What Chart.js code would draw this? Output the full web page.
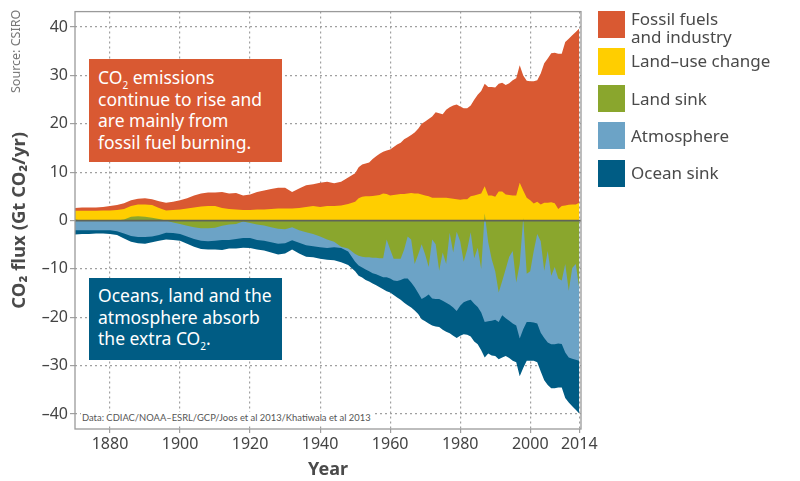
<!DOCTYPE html>
<html>
<head>
<meta charset="utf-8">
<title>CO2 flux</title>
<script src="https://cdn.jsdelivr.net/npm/chart.js@4"></script>
<style>
	body { margin: 0; background: #fff; font-family: "Noto Sans", sans-serif; }
	#wrap { position: relative; width: 800px; height: 481px; overflow: hidden; }
	canvas { position: absolute; left: 0; top: 0; }
	.box { position: absolute; left: 89px; width: 193px; color: #fff; font-size: 17.5px; line-height: 21.5px; box-sizing: border-box; padding-left: 9px; }
	.box sub { font-size: 10px; line-height: 0; }
	#boxOrange { top: 59px; height: 103px; background: #d95932; padding-top: 8px; }
	#boxBlue { top: 278px; height: 82px; background: #005c84; padding-top: 7px; }
	#dataNote { position: absolute; left: 81px; top: 412px; background: #fff; color: #555; font-family: Lato, sans-serif; font-size: 9.4px; line-height: 12px; padding: 0 3px 0 1px; white-space: nowrap; }
	#source { position: absolute; left: 9px; top: 93px; color: #777; font-size: 12.5px; line-height: 14px; transform-origin: 0 0; transform: rotate(-90deg); white-space: nowrap; }
	.swatch { position: absolute; left: 598px; width: 27px; height: 27px; }
	.label { position: absolute; left: 631px; color: #4a4a4a; font-size: 17px; line-height: 18px; white-space: pre-line; }
</style>
</head>
<body>
<div id="wrap">
	<canvas id="chartFlux" width="800" height="481"></canvas>
	<div id="source">Source: CSIRO</div>
	<div class="box" id="boxOrange">CO<sub>2</sub> emissions<br>continue to rise and<br>are mainly from<br>fossil fuel burning.</div>
	<div class="box" id="boxBlue">Oceans, land and the<br>atmosphere absorb<br>the extra CO<sub>2</sub>.</div>
	<div id="dataNote">Data: CDIAC/NOAA–ESRL/GCP/Joos et al 2013/Khatiwala et al 2013</div>
</div>
<script>
const years = [
	1870, 1872, 1874, 1876, 1878, 1880, 1882, 1884, 1886, 1888, 1890, 1892, 1894, 1896, 1898, 1900, 1902, 1904, 1906, 1908,
	1910, 1912, 1914, 1916, 1918, 1920, 1922, 1924, 1926, 1928, 1930, 1932, 1934, 1936, 1938, 1940, 1942, 1944, 1946, 1948, 1950,
	1951, 1952, 1953, 1954, 1955, 1956, 1957, 1958, 1959, 1960, 1961, 1962, 1963, 1964, 1965, 1966, 1967, 1968, 1969, 1970,
	1971, 1972, 1973, 1974, 1975, 1976, 1977, 1978, 1979, 1980, 1981, 1982, 1983, 1984, 1985, 1986, 1987, 1988, 1989, 1990,
	1991, 1992, 1993, 1994, 1995, 1996, 1997, 1998, 1999, 2000, 2001, 2002, 2003, 2004, 2005, 2006, 2007, 2008, 2009, 2010,
	2011, 2012, 2013, 2014,
];

const fossilFuels = [
	0.6, 0.7, 0.7, 0.7, 0.7, 0.9, 1.0, 1.2, 1.2, 1.2, 1.3, 1.2, 1.4, 1.6, 1.7, 1.9, 2.1, 2.5, 2.7, 2.8,
	2.8, 3.3, 3.2, 3.4, 3.0, 3.2, 3.6, 3.9, 4.1, 4.3, 4.3, 3.4, 4.0, 4.5, 4.5, 5.0, 5.0, 4.7, 4.9, 5.5, 5.9,
	6.4, 6.7, 6.8, 7.0, 7.6, 8.1, 8.5, 8.6, 9.0, 9.5, 9.9, 10.3, 10.6, 11.3, 11.6, 12.0, 12.6, 13.4, 14.6, 15.3,
	16.0, 16.8, 17.7, 17.5, 17.3, 18.2, 18.8, 19.3, 19.6, 19.3, 18.8, 18.8, 18.8, 19.8, 20.6, 21.2, 21.2, 22.4, 22.4, 22.6,
	22.3, 22.5, 22.6, 23.1, 23.8, 24.2, 24.3, 23.8, 24.2, 24.6, 25.3, 25.1, 27.1, 28.8, 29.8, 30.8, 31.1, 32.1, 31.5, 33.8,
	34.35, 35.0, 35.7, 36.0,
];

const landUse = [
	2.0, 2.0, 2.0, 2.0, 2.1, 2.1, 2.2, 2.4, 3.0, 3.3, 3.3, 3.2, 2.6, 2.1, 2.2, 2.3, 2.5, 2.7, 2.9, 3.0,
	3.0, 2.6, 2.4, 2.3, 2.2, 2.2, 2.3, 2.3, 2.4, 2.5, 2.5, 2.5, 2.6, 2.8, 3.0, 2.8, 3.0, 3.0, 3.1, 3.4, 3.9,
	4.6, 4.9, 5.0, 5.0, 5.1, 5.2, 5.3, 5.6, 5.5, 5.2, 5.3, 5.4, 5.5, 5.5, 5.6, 5.7, 5.6, 5.6, 5.4, 5.2,
	5.0, 4.7, 4.7, 4.7, 4.7, 4.7, 4.6, 4.5, 4.4, 4.3, 4.4, 4.4, 5.0, 5.2, 5.4, 5.6, 7.1, 5.2, 5.2, 4.9,
	6.0, 6.0, 5.4, 5.3, 5.2, 5.2, 7.8, 6.2, 4.7, 4.2, 3.5, 3.9, 3.3, 3.7, 3.7, 3.8, 3.6, 2.4, 3.0, 3.1,
	3.25, 3.3, 3.3, 3.7,
];

const landSink = [
	0.2, 0, 0, 0, 0, 0, 0, 0.2, 0.8, 0.9, 0.8, 0.6, 0.3, 0, -0.4, -0.7, -1.1, -1.4, -1.6, -1.6,
	-1.5, -1.1, -0.8, -0.7, -0.2, -0.5, -0.8, -1.0, -1.4, -1.7, -1.8, -1.4, -2.0, -2.4, -2.8, -3.3, -3.9, -4.4, -5.4, -5.8, -6.9,
	-7.3, -7.5, -7.6, -7.6, -7.7, -7.7, -7.8, -7.8, -3.9, -6.0, -7.9, -7.9, -7.9, -6.0, -3.3, -3.9, -9.0, -7.0, -4.9, -7.0,
	-9.6, -3.9, -4.9, -10.4, -6.6, -9.0, -2.5, -6.6, -2.3, -4.3, -8.5, -6.0, -2.4, -7.8, -5.6, -10.0, 1.5, -4.5, -8.0, -10.5,
	-14.9, -12.5, -10.0, -7.5, -6.3, -12.8, -9.0, 0.5, -11.0, -10.5, -6.3, -2.8, -4.3, -10.4, -6.3, -11.4, -9.6, -12.0, -12.4, -9.0,
	-14.5, -9.8, -9.0, -14.0,
];

const atmosphere = [
	-2.0, -2.0, -2.0, -2.0, -2.0, -2.0, -2.2, -2.7, -3.2, -3.4, -3.4, -3.3, -3.0, -2.5, -2.2, -2.1, -2.2, -2.4, -2.6, -2.7,
	-2.7, -2.9, -3.2, -3.1, -3.4, -3.1, -3.2, -3.2, -3.1, -3.1, -2.9, -2.7, -2.6, -2.7, -2.5, -2.2, -1.8, -1.1, -0.3, -0.6, -1.6,
	-2.0, -2.2, -2.5, -2.9, -3.2, -3.4, -3.6, -3.9, -7.8, -6.0, -4.5, -4.6, -4.4, -6.0, -8.7, -8.9, -4.8, -8.0, -11.3, -8.8,
	-5.7, -12.2, -11.3, -5.8, -10.0, -8.0, -14.9, -11.4, -16.4, -13.3, -8.4, -10.6, -14.0, -9.4, -12.3, -9.0, -21.0, -16.3, -12.7, -10.0,
	-6.1, -7.1, -10.2, -13.2, -15.0, -8.9, -15.4, -22.5, -10.0, -10.5, -14.8, -18.5, -18.9, -13.9, -18.9, -14.2, -16.0, -13.4, -13.1, -18.3,
	-13.8, -18.8, -19.8, -15.0,
];

const oceanSink = [
	-0.9, -0.8, -0.8, -0.7, -0.7, -0.8, -0.8, -1.0, -1.2, -1.3, -1.4, -1.2, -1.2, -1.4, -1.4, -1.4, -1.5, -1.6, -1.7, -1.7,
	-1.8, -2.1, -1.8, -2.0, -2.0, -2.1, -2.0, -2.0, -2.1, -2.2, -2.1, -1.9, -2.2, -2.4, -2.3, -2.4, -2.4, -2.7, -2.9, -2.8, -2.0,
	-2.1, -2.1, -2.2, -2.1, -2.1, -2.3, -2.4, -2.5, -2.9, -2.9, -3.0, -3.4, -4.1, -5.0, -5.5, -5.2, -4.8, -4.3, -4.2, -5.0,
	-6.0, -5.6, -5.7, -5.8, -6.0, -6.0, -5.9, -5.8, -5.6, -6.2, -6.6, -7.0, -7.6, -7.8, -7.7, -7.8, -7.3, -6.7, -7.2, -7.5,
	-7.7, -8.7, -7.8, -7.7, -7.7, -7.6, -7.8, -8.0, -8.0, -8.0, -7.9, -8.0, -8.0, -8.7, -8.8, -9.1, -9.1, -9.1, -9.0, -9.4,
	-9.3, -9.8, -10.3, -10.9,
];

const xTicks = [1880, 1900, 1920, 1940, 1960, 1980, 2000, 2014];
const yTicks = [-40, -30, -20, -10, 0, 10, 20, 30, 40];

const legendLabels = ["Fossil fuels\nand industry", "Land–use change", "Land sink", "Atmosphere", "Ocean sink"];
const legendColors = ["#d95932", "#ffce00", "#8aa62d", "#6ca3c6", "#005c84"];
const legendSwatchTop = [11, 48, 85, 122, 160];
const legendLabelTop = [10, 52, 90, 127, 164];

const wrap = document.getElementById("wrap");
for (let i = 0; i < legendLabels.length; i++) {
	const swatch = document.createElement("div");
	swatch.className = "swatch";
	swatch.style.top = legendSwatchTop[i] + "px";
	swatch.style.background = legendColors[i];
	wrap.appendChild(swatch);

	const label = document.createElement("div");
	label.className = "label";
	label.style.top = legendLabelTop[i] + "px";
	label.textContent = legendLabels[i];
	wrap.appendChild(label);
}

// Linha do zero e moldura por cima das áreas
const zeroLineAndFrame = {
	id: "zeroLineAndFrame",
	afterDatasetsDraw(chart) {
		const ctx = chart.ctx;
		const area = chart.chartArea;
		const y0 = chart.scales.y.getPixelForValue(0);
		ctx.save();
		ctx.strokeStyle = "#5f6458";
		ctx.lineWidth = 1.8;
		ctx.beginPath();
		ctx.moveTo(area.left, y0);
		ctx.lineTo(area.right, y0);
		ctx.stroke();
		ctx.strokeStyle = "#9a9a9a";
		ctx.lineWidth = 1.3;
		ctx.strokeRect(area.left, area.top, area.right - area.left, area.bottom - area.top);
		ctx.restore();
	},
};

// O primeiro dataset fica por cima; fontes e sumidouros empilham em grupos separados
function area(label, data, color, stack) {
	return {
		label,
		data,
		stack,
		backgroundColor: color,
		borderWidth: 0,
		pointRadius: 0,
		tension: 0,
		fill: "origin",
	};
}

new Chart(document.getElementById("chartFlux"), {
	type: "line",
	data: {
		labels: years,
		datasets: [
			area("Land sink", landSink, legendColors[2], "sinks"),
			area("Atmosphere", atmosphere, legendColors[3], "sinks"),
			area("Ocean sink", oceanSink, legendColors[4], "sinks"),
			area("Land-use change", landUse, legendColors[1], "sources"),
			area("Fossil fuels and industry", fossilFuels, legendColors[0], "sources"),
		],
	},
	plugins: [zeroLineAndFrame],
	options: {
		responsive: false,
		animation: false,
		layout: { padding: { top: 10, right: 219, left: 0, bottom: 0 } },
		plugins: { legend: { display: false }, tooltip: { enabled: false } },
		scales: {
			x: {
				type: "linear",
				min: 1870,
				max: 2014.5,
				afterBuildTicks(scale) {
					scale.ticks = xTicks.map((value) => ({ value }));
				},
				afterFit(scale) {
					scale.height = 52;
				},
				grid: { color: "#a0a0a0", tickLength: 4, lineWidth: 1.2 },
				border: { display: false, dash: [2, 3] },
				ticks: {
					autoSkip: false,
					maxRotation: 0,
					padding: 2,
					color: "#444",
					font: { family: "Noto Sans", size: 16 },
					callback: (value) => String(value),
				},
				title: {
					display: true,
					text: "Year",
					color: "#4a4a4a",
					padding: { top: 3, bottom: 0 },
					font: { family: "Noto Sans", size: 18, weight: "bold" },
				},
			},
			y: {
				stacked: true,
				min: -43.1,
				max: 43.2,
				afterBuildTicks(scale) {
					scale.ticks = yTicks.map((value) => ({ value }));
				},
				afterFit(scale) {
					scale.width = 75;
				},
				grid: { color: "#a0a0a0", tickLength: 5, lineWidth: 1.2 },
				border: { display: false, dash: [2, 3] },
				ticks: {
					autoSkip: false,
					padding: 2,
					color: "#444",
					font: { family: "Noto Sans", size: 16 },
					callback: (value) => (value < 0 ? "–" + Math.abs(value) : String(value)),
				},
				title: {
					display: true,
					text: "CO₂ flux (Gt CO₂/yr)",
					color: "#4a4a4a",
					padding: { top: 9, bottom: 0 },
					font: { family: "Noto Sans", size: 18.5, weight: "bold" },
				},
			},
		},
	},
});
</script>
</body>
</html>
